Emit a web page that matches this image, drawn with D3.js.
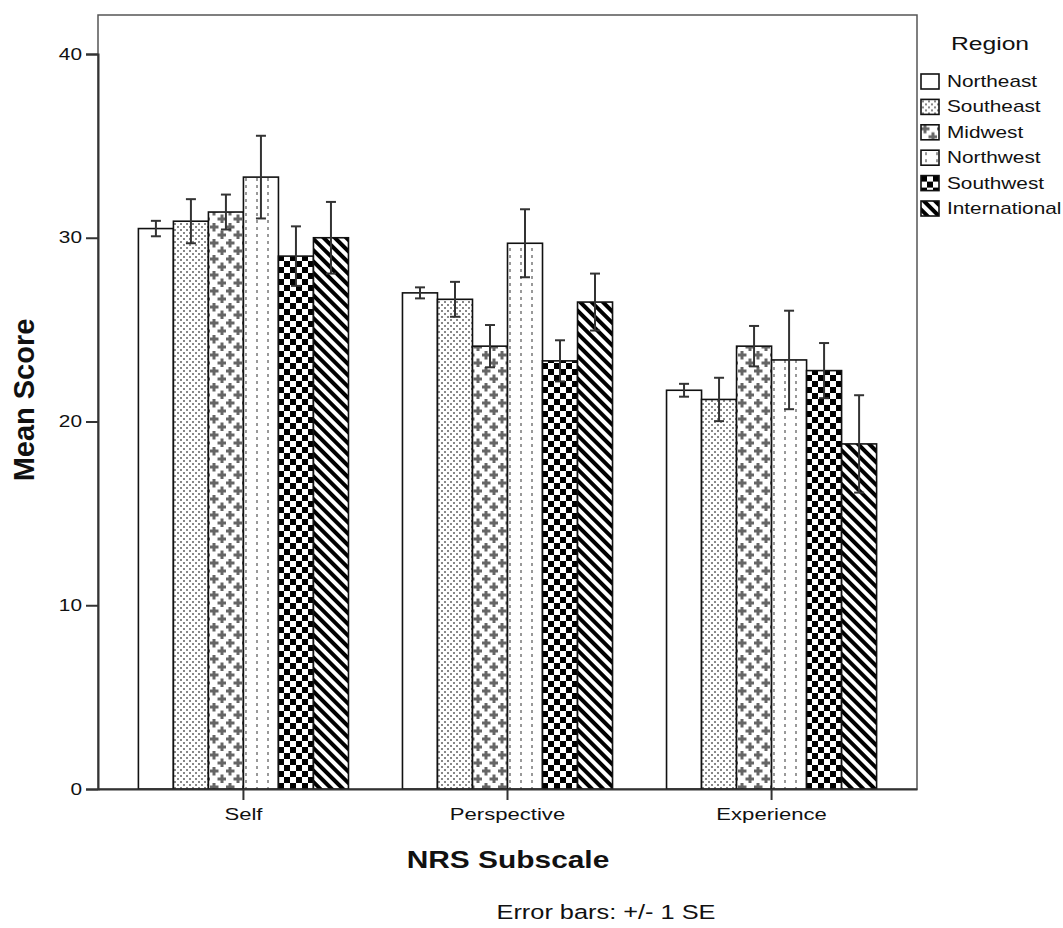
<!DOCTYPE html>
<html>
<head>
<meta charset="utf-8">
<script src="https://cdn.jsdelivr.net/npm/d3@7"></script>
<style>
  body { margin: 0; background: #fff; }
  text { font-family: "Liberation Sans", Arial, sans-serif; fill: #111; }
</style>
</head>
<body>
<div id="chart"></div>
<script>
// data
var categories = ["Self", "Perspective", "Experience"];
var regions = ["Northeast", "Southeast", "Midwest", "Northwest", "Southwest", "International"];
var selfMean = [30.5, 30.9, 31.4, 33.3, 29.0, 30.0];
var selfSE = [0.42, 1.2, 0.95, 2.25, 1.62, 1.95];
var perspectiveMean = [27.0, 26.65, 24.1, 29.7, 23.3, 26.5];
var perspectiveSE = [0.3, 0.95, 1.15, 1.85, 1.12, 1.55];
var experienceMean = [21.7, 21.2, 24.1, 23.35, 22.77, 18.78];
var experienceSE = [0.35, 1.18, 1.1, 2.68, 1.5, 2.65];
var yTicks = [0, 10, 20, 30, 40];

var means = [selfMean, perspectiveMean, experienceMean];
var ses = [selfSE, perspectiveSE, experienceSE];
var data = [];
categories.forEach(function(c, i) {
  regions.forEach(function(r, j) {
    data.push({cat: c, region: r, mean: means[i][j], se: ses[i][j]});
  });
});

// the original is stretched sideways, so horizontal text is widened
var sx = 1.3;

var margin = {top: 15, right: 146, bottom: 139, left: 98},
    width = 1063 - margin.left - margin.right,
    height = 928 - margin.top - margin.bottom;

var root = d3.select("#chart")
  .append("svg")
    .attr("width", 1063)
    .attr("height", 928);

// fill patterns
var defs = root.append("defs");

var p = defs.append("pattern").attr("id", "pat-Southeast")
  .attr("patternUnits", "userSpaceOnUse").attr("width", 6).attr("height", 6);
p.append("rect").attr("width", 6).attr("height", 6).attr("fill", "#fff");
p.append("rect").attr("x", 1).attr("y", 1).attr("width", 2).attr("height", 2).attr("fill", "#888");
p.append("rect").attr("x", 4).attr("y", 4).attr("width", 2).attr("height", 2).attr("fill", "#888");

p = defs.append("pattern").attr("id", "pat-Midwest")
  .attr("patternUnits", "userSpaceOnUse").attr("width", 16).attr("height", 16);
p.append("rect").attr("width", 16).attr("height", 16).attr("fill", "#fff");
[[4, 4], [12, 12]].forEach(function(c) {
  p.append("rect").attr("x", c[0] - 4.5).attr("y", c[1] - 1.5).attr("width", 9).attr("height", 3).attr("fill", "#666");
  p.append("rect").attr("x", c[0] - 1.5).attr("y", c[1] - 4.5).attr("width", 3).attr("height", 9).attr("fill", "#666");
});

p = defs.append("pattern").attr("id", "pat-Northwest")
  .attr("patternUnits", "userSpaceOnUse").attr("width", 11).attr("height", 7);
p.append("rect").attr("width", 11).attr("height", 7).attr("fill", "#fff");
p.append("rect").attr("x", 4).attr("y", 2).attr("width", 2).attr("height", 3).attr("fill", "#999");

p = defs.append("pattern").attr("id", "pat-Southwest")
  .attr("patternUnits", "userSpaceOnUse").attr("width", 12).attr("height", 12);
p.append("rect").attr("width", 12).attr("height", 12).attr("fill", "#fff");
p.append("rect").attr("x", 0).attr("y", 0).attr("width", 6).attr("height", 6).attr("fill", "#000");
p.append("rect").attr("x", 6).attr("y", 6).attr("width", 6).attr("height", 6).attr("fill", "#000");

p = defs.append("pattern").attr("id", "pat-International")
  .attr("patternUnits", "userSpaceOnUse").attr("width", 8).attr("height", 8)
  .attr("patternTransform", "rotate(-45)");
p.append("rect").attr("width", 8).attr("height", 8).attr("fill", "#fff");
p.append("rect").attr("x", 0).attr("y", 0).attr("width", 4).attr("height", 8).attr("fill", "#000");

function fillFor(r) {
  return r === "Northeast" ? "#fff" : "url(#pat-" + r + ")";
}

var svg = root.append("g")
  .attr("transform", "translate(" + margin.left + "," + margin.top + ")");

// scales
var x0 = d3.scaleBand()
  .domain(categories)
  .range([0, width])
  .paddingInner(0.2045)
  .paddingOuter(0.153);

var x1 = d3.scaleBand()
  .domain(regions)
  .range([0, x0.bandwidth()]);

var y = d3.scaleLinear()
  .domain([0, 40])
  .range([height, height - 735]);

// frame
svg.append("rect")
  .attr("width", width)
  .attr("height", height)
  .attr("fill", "none")
  .attr("stroke", "#555")
  .attr("stroke-width", 1.5);

// bars
svg.selectAll("rect.bar")
  .data(data)
  .enter()
  .append("rect")
    .attr("class", "bar")
    .attr("x", function(d) { return x0(d.cat) + x1(d.region); })
    .attr("y", function(d) { return y(d.mean); })
    .attr("width", x1.bandwidth())
    .attr("height", function(d) { return y(0) - y(d.mean); })
    .attr("fill", function(d) { return fillFor(d.region); })
    .attr("stroke", "#111")
    .attr("stroke-width", 1.6);

// error bars
var eb = svg.selectAll("g.err")
  .data(data)
  .enter()
  .append("g")
    .attr("class", "err")
    .attr("transform", function(d) { return "translate(" + (x0(d.cat) + x1(d.region) + x1.bandwidth() / 2) + ",0)"; })
    .attr("stroke", "#333")
    .attr("stroke-width", 2);
eb.append("line")
  .attr("y1", function(d) { return y(d.mean + d.se); })
  .attr("y2", function(d) { return y(d.mean - d.se); });
eb.append("line")
  .attr("x1", -5).attr("x2", 5)
  .attr("y1", function(d) { return y(d.mean + d.se); })
  .attr("y2", function(d) { return y(d.mean + d.se); });
eb.append("line")
  .attr("x1", -5).attr("x2", 5)
  .attr("y1", function(d) { return y(d.mean - d.se); })
  .attr("y2", function(d) { return y(d.mean - d.se); });

// y axis
var yAxis = svg.append("g")
  .call(d3.axisLeft(y).tickValues(yTicks).tickSize(12).tickPadding(4));
yAxis.select(".domain").attr("stroke", "#333").attr("stroke-width", 2);
yAxis.selectAll(".tick line").attr("stroke", "#333").attr("stroke-width", 2);
yAxis.selectAll(".tick text")
  .attr("x", 0)
  .attr("font-size", 16)
  .attr("fill", "#111")
  .attr("transform", "translate(-16,0) scale(" + sx + ",1)");

// x axis
var xAxis = svg.append("g")
  .attr("transform", "translate(0," + height + ")")
  .call(d3.axisBottom(x0).tickSize(11).tickSizeOuter(0).tickPadding(8));
xAxis.select(".domain").attr("stroke", "#333").attr("stroke-width", 2);
xAxis.selectAll(".tick line").attr("stroke", "#333").attr("stroke-width", 2);
xAxis.selectAll(".tick text")
  .attr("font-size", 17)
  .attr("fill", "#111")
  .attr("transform", "scale(" + sx + ",1)");

// axis titles
root.append("text")
  .attr("transform", "translate(34," + 400 + ") scale(" + sx + ",1.26) rotate(-90)")
  .attr("text-anchor", "middle")
  .attr("font-size", 23)
  .attr("font-weight", "bold")
  .text("Mean Score");

root.append("text")
  .attr("transform", "translate(508,868) scale(" + sx + ",1)")
  .attr("text-anchor", "middle")
  .attr("font-size", 23)
  .attr("font-weight", "bold")
  .text("NRS Subscale");

root.append("text")
  .attr("transform", "translate(606,919) scale(" + sx + ",1)")
  .attr("text-anchor", "middle")
  .attr("font-size", 19.5)
  .text("Error bars:  +/- 1 SE");

// legend
root.append("text")
  .attr("transform", "translate(990,50) scale(" + sx + ",1)")
  .attr("text-anchor", "middle")
  .attr("font-size", 19)
  .text("Region");

var leg = root.selectAll("g.leg")
  .data(regions)
  .enter()
  .append("g")
    .attr("class", "leg")
    .attr("transform", function(d, i) { return "translate(921," + (74 + i * 25.4) + ")"; });
leg.append("rect")
  .attr("width", 18)
  .attr("height", 15)
  .attr("fill", function(d) { return fillFor(d); })
  .attr("stroke", "#111")
  .attr("stroke-width", 1.6);
leg.append("text")
  .attr("transform", "translate(26,13) scale(" + sx + ",1)")
  .attr("font-size", 16)
  .text(function(d) { return d; });
</script>
</body>
</html>
